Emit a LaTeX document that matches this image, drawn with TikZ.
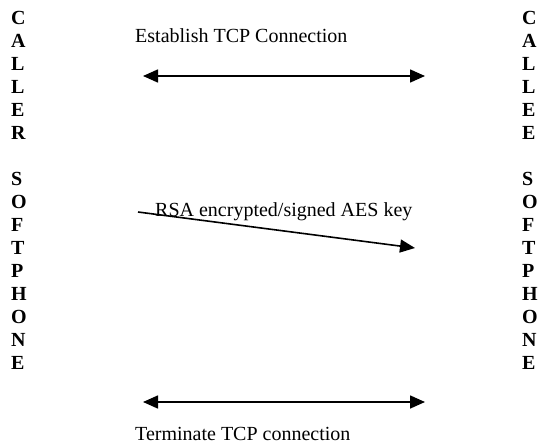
\documentclass[tikz,border=0pt]{standalone}
\usepackage{fontspec}
\setmainfont{Liberation Serif}
\usetikzlibrary{arrows.meta}
\tikzset{
  party/.style={anchor=north west, inner sep=0pt, align=left,
    font=\fontsize{20}{23}\selectfont\bfseries},
  msglabel/.style={anchor=base west, inner sep=0pt, font=\fontsize{20}{24}\selectfont},
  msg/.style={line width=1.6pt, -{Triangle[length=15pt,width=13pt]}},
  msgboth/.style={line width=1.6pt, {Triangle[length=15pt,width=13pt]}-{Triangle[length=15pt,width=13pt]}}
}
\begin{document}
\begin{tikzpicture}[x=1pt,y=-1pt]
\useasboundingbox (0,0) rectangle (545,444);
\node[party] (caller) at (11,11.5) {C\\A\\L\\L\\E\\R\\[23pt]S\\O\\F\\T\\P\\H\\O\\N\\E};
\node[party] (callee) at (522,11.5) {C\\A\\L\\L\\E\\E\\[23pt]S\\O\\F\\T\\P\\H\\O\\N\\E};
\node[msglabel] (est) at (135,42) {Establish TCP Connection};
\node[msglabel] (rsa) at (155,216) {RSA encrypted/signed AES key};
\node[msglabel] (term) at (135,440) {Terminate TCP connection};
\coordinate (e1) at (143,76);
\coordinate (e2) at (425,76);
\coordinate (r1) at (138,212);
\coordinate (r2) at (415,248);
\coordinate (t1) at (143,402);
\coordinate (t2) at (425,402);
\draw[msgboth] (e1) -- (e2);
\draw[msg] (r1) -- (r2);
\draw[msgboth] (t1) -- (t2);
\end{tikzpicture}
\end{document}
